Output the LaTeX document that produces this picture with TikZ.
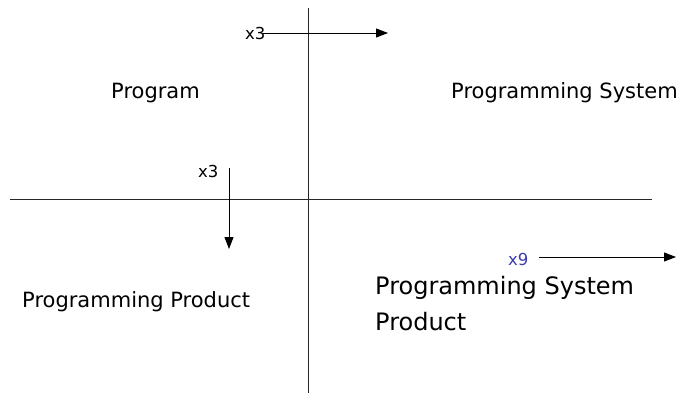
\documentclass[tikz,border=0pt]{standalone}
\usepackage{fontspec}
\setmainfont{DejaVu Sans}
\usetikzlibrary{arrows.meta}
\definecolor{labelblue}{RGB}{60,60,175}
\begin{document}
\begin{tikzpicture}[x=1pt,y=-1pt,
  axis/.style={line width=0.9pt, black!85},
  arr/.style={line width=0.9pt, -{Triangle[length=12pt,width=9pt]}},
  quad/.style={font=\fontsize{21}{25}\selectfont, inner sep=0pt, anchor=base west},
  big/.style={font=\fontsize{24}{36}\selectfont, inner sep=0pt, align=left, anchor=base west},
  mult/.style={font=\fontsize{16.5}{19}\selectfont, inner sep=0pt, anchor=base west}]
\useasboundingbox (0,0) rectangle (688,404);
\coordinate (vt) at (308,8);
\coordinate (vb) at (308,393);
\coordinate (hl) at (10,199);
\coordinate (hr) at (652,199);
\draw[axis] (vt) -- (vb);
\draw[axis] (hl) -- (hr);
\node[quad] (p) at (111,98) {Program};
\node[quad] (ps) at (451,98) {Programming System};
\node[quad] (pp) at (22,307) {Programming Product};
\node[big] (psp) at (375,330) {Programming System\\Product};
\node[mult] (m1) at (245,40) {x3};
\coordinate (a1s) at (263,33);
\coordinate (a1e) at (388,33);
\draw[arr] (a1s) -- (a1e);
\node[mult] (m2) at (198,177) {x3};
\coordinate (a2s) at (229,168);
\coordinate (a2e) at (229,249);
\draw[arr] (a2s) -- (a2e);
\node[mult, text=labelblue] (m3) at (508,265) {x9};
\coordinate (a3s) at (539,257);
\coordinate (a3e) at (676,257);
\draw[arr] (a3s) -- (a3e);
\end{tikzpicture}
\end{document}
